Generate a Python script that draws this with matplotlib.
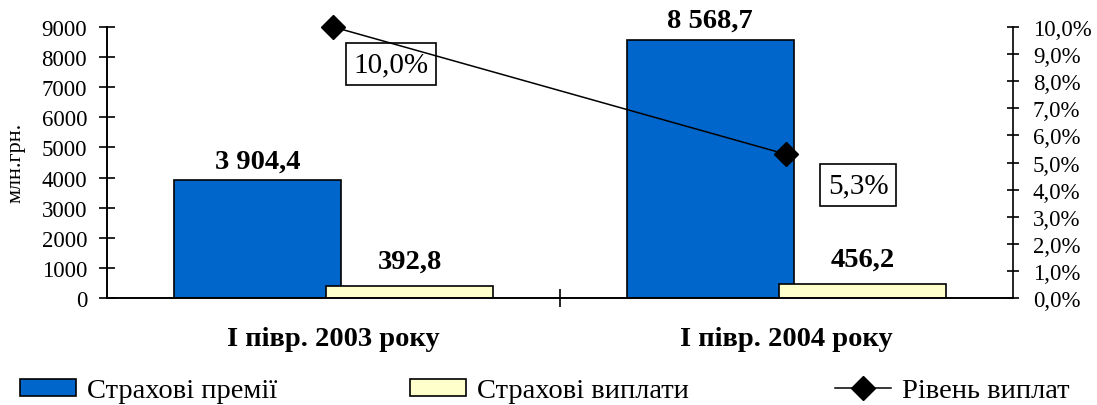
import matplotlib.pyplot as plt
import numpy as np

# Дані
periods = ["I півр. 2003 року", "I півр. 2004 року"]
premii = [3904.4, 8568.7]
vyplaty = [392.8, 456.2]
riven = [10.0, 5.3]
premii_labels = ["3 904,4", "8 568,7"]
vyplaty_labels = ["392,8", "456,2"]
riven_labels = ["10,0%", "5,3%"]

plt.rcParams['font.family'] = ['Liberation Serif', 'DejaVu Serif']

fig = plt.figure(figsize=(10.97, 4.06), dpi=100)
ax = fig.add_axes([0.0975, 0.2635, 0.8259, 0.6675])
ax2 = ax.twinx()

x = np.arange(len(periods))
w = 0.369
off = 0.168

b1 = ax.bar(x - off, premii, w, color='#0066CC', edgecolor='black', linewidth=1.2,
            label='Страхові премії', zorder=2)
b2 = ax.bar(x + off, vyplaty, w, color='#FFFFCC', edgecolor='black', linewidth=1.2,
            label='Страхові виплати', zorder=3)

for i in x:
    ax.annotate(premii_labels[i], (i - off, premii[i]), xytext=(0, 14), textcoords='offset points',
                ha='center', va='center', fontsize=20.5, fontweight='bold')
    ax.annotate(vyplaty_labels[i], (i + off, vyplaty[i]), xytext=(0, 18), textcoords='offset points',
                ha='center', va='center', fontsize=20.5, fontweight='bold')

ax.set_xlim(-0.5, 1.5)
ax.set_ylim(0, 9000)
ax.set_yticks(range(0, 9001, 1000))
ax.set_xticks([0.5])
ax.set_xticklabels([''])
ax.tick_params(axis='x', direction='inout', length=13, width=1.2)
ax.tick_params(axis='y', direction='inout', length=11.5, width=1.2, labelsize=16.5, pad=8.5)
fig.text(15.5 / 1097, 1 - 163 / 406, 'млн.грн.', rotation=90, ha='center', va='center', fontsize=16)
for i, p in enumerate(periods):
    ax.text(i, -0.151, p, transform=ax.get_xaxis_transform(), ha='center', va='center',
            fontsize=20.5, fontweight='bold')

ax2.plot(x, riven, color='black', linewidth=1.1, marker='D', markersize=12,
         label='Рівень виплат', zorder=5, clip_on=False)
ax2.set_ylim(0, 10)
ax2.set_yticks(np.arange(0, 10.01, 1))
ax2.set_yticklabels([f"{v:.1f}%".replace('.', ',') for v in np.arange(0, 10.01, 1)])
ax2.tick_params(axis='y', direction='inout', length=8.6, width=1.2, labelsize=16.5, pad=10)

lbl_pos = [(0.127, 8.63), (1.158, 4.17)]
for (lx, ly), t in zip(lbl_pos, riven_labels):
    ax2.text(lx, ly, t, ha='center', va='center', fontsize=21,
             bbox=dict(boxstyle='square,pad=0.27', facecolor='white', edgecolor='black', linewidth=1.2))

for a in (ax, ax2):
    a.spines['top'].set_visible(False)
    for s in ('left', 'right', 'bottom'):
        a.spines[s].set_linewidth(1.2)
ax.spines['right'].set_visible(False)

handles = [b1, b2, ax2.get_lines()[0]]
leg_x = [20, 410, 835]
for h, lx in zip(handles, leg_x):
    leg = fig.legend([h], [h.get_label()], loc='center left', bbox_to_anchor=(lx / 1097, 1 - 392 / 406),
                     frameon=False, fontsize=20.5, handlelength=1.96, handleheight=0.54,
                     handletextpad=0.4, borderpad=0, borderaxespad=0)

fig.savefig('out.png', dpi=100)
